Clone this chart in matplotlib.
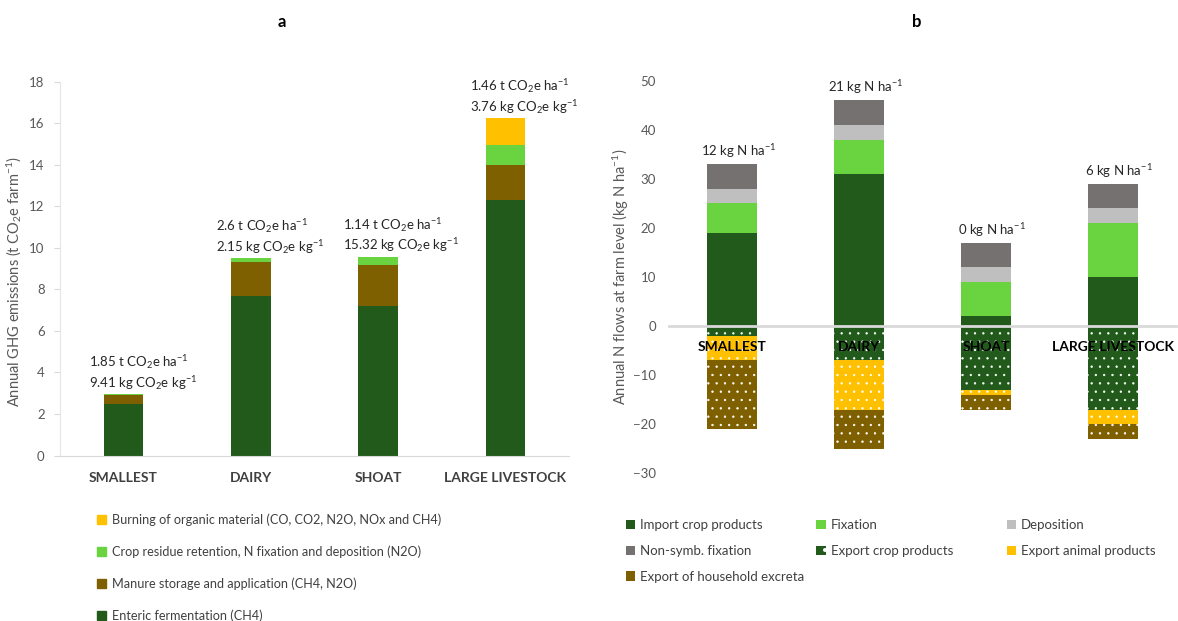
import matplotlib
matplotlib.use('Agg')
import numpy as np
from matplotlib import pyplot as plt
from matplotlib.patches import Rectangle

plt.rcParams['font.family'] = ['Lato', 'DejaVu Sans']
plt.rcParams['mathtext.default'] = 'regular'
plt.rcParams['hatch.linewidth'] = 0.45

# ---- panel a: GHG emissions per farm type ----
farm_types = ['SMALLEST', 'DAIRY', 'SHOAT', 'LARGE LIVESTOCK']
enteric = [2.46, 7.68, 7.19, 12.31]
manure = [0.44, 1.65, 1.98, 1.69]
crop_residue = [0.06, 0.19, 0.41, 0.96]
burning = [0.0, 0.0, 0.0, 1.28]
per_ha = ['1.85', '2.6', '1.14', '1.46']
per_kg = ['9.41', '2.15', '15.32', '3.76']

# ---- panel b: farm level N flows ----
import_crop = [19, 31, 2, 10]
fixation = [6, 7, 7, 11]
deposition = [3, 3, 3, 3]
nonsymb = [5, 5, 5, 5]
export_crop = [-2, -7, -13, -17]
export_animal = [-5, -10, -1, -3]
export_excreta = [-14, -8, -3, -3]

DKGREEN = '#215a1b'
LTGREEN = '#6ad440'
BROWN = '#7f6000'
YELLOW = '#ffc000'
LTGRAY = '#bfbfbf'
DKGRAY = '#767171'
TXT = '#595959'

fig = plt.figure(figsize=(11.78, 6.21), dpi=100)

# ===================== a =====================
axa = fig.add_axes([0.0509, 0.2665, 0.4321, 0.6019])
x = np.arange(len(farm_types))
w = 0.31
bottom = np.zeros(len(x))
for vals, col in [(enteric, DKGREEN), (manure, BROWN),
                  (crop_residue, LTGREEN), (burning, YELLOW)]:
    axa.bar(x, vals, w, bottom=bottom, color=col, linewidth=0)
    bottom += np.array(vals)

for i in x:
    txt = (f'{per_ha[i]} t CO$_2$e ha$^{{-1}}$\n'
           f'{per_kg[i]} kg CO$_2$e kg$^{{-1}}$')
    axa.annotate(txt, (i - w / 2 - 0.12, bottom[i]), xytext=(0, 1.5),
                 textcoords='offset points', ha='left', va='bottom',
                 fontsize=9.5, color='#262626', linespacing=1.2)

axa.set_xlim(-0.5, 3.5)
axa.set_ylim(0, 18)
axa.set_yticks(range(0, 19, 2))
axa.set_xticks(x)
axa.set_xticklabels(farm_types, fontweight='bold', fontsize=10, color='#404040')
axa.tick_params(axis='x', length=0, pad=12)
axa.tick_params(axis='y', length=4, color='#d9d9d9', labelsize=9.5,
                labelcolor=TXT, pad=7)
for s in ['top', 'right']:
    axa.spines[s].set_visible(False)
axa.spines['left'].set_color('#e6e6e6')
axa.spines['bottom'].set_color('#d9d9d9')
axa.set_ylabel('Annual GHG emissions (t CO$_2$e farm$^{-1}$)',
               fontsize=10.5, color=TXT)
axa.yaxis.set_label_coords(-0.07, 0.464)

leg_a = [('Burning of organic material (CO, CO2, N2O, NOx and CH4)', YELLOW),
         ('Crop residue retention, N fixation and deposition (N2O)', LTGREEN),
         ('Manure storage and application (CH4, N2O)', BROWN),
         ('Enteric fermentation (CH4)', DKGREEN)]
fig.legend([Rectangle((0, 0), 1, 1, color=c) for _, c in leg_a],
           [t for t, _ in leg_a], loc='upper left',
           bbox_to_anchor=(0.077, 0.184), frameon=False, fontsize=9.1,
           handlelength=0.7, handleheight=0.7, handletextpad=0.45,
           labelspacing=1.55, labelcolor='#404040', borderpad=0)

fig.text(0.239, 0.965, 'a', fontsize=12, fontweight='bold', ha='center', va='center')

# ===================== b =====================
axb = fig.add_axes([0.5675, 0.2378, 0.4312, 0.6322])
# zero line doubles as the category axis
axb.spines['bottom'].set_position(('data', 0))
wb = 0.4
pos = np.zeros(len(x))
for vals, col in [(import_crop, DKGREEN), (fixation, LTGREEN),
                  (deposition, LTGRAY), (nonsymb, DKGRAY)]:
    axb.bar(x, vals, wb, bottom=pos, color=col, linewidth=0)
    pos += np.array(vals)
neg = np.zeros(len(x))
for vals, col in [(export_crop, DKGREEN), (export_animal, YELLOW),
                  (export_excreta, BROWN)]:
    axb.bar(x, vals, wb, bottom=neg, color=col, edgecolor='white',
            linewidth=0, hatch='..')
    neg += np.array(vals)

balance = pos + neg
for i in x:
    axb.annotate(f'{balance[i]:.0f} kg N ha$^{{-1}}$', (i + 0.05, pos[i]),
                 xytext=(0, 3), textcoords='offset points', ha='center',
                 va='bottom', fontsize=9.5, color='#262626')

axb.set_xlim(-0.5, 3.5)
axb.set_ylim(-30, 50)
axb.set_yticks(range(-30, 51, 10))
axb.set_xticks(x)
axb.set_xticklabels(farm_types, fontweight='bold', fontsize=10, color='black')
axb.spines['bottom'].set_color('#d9d9d9')
axb.spines['bottom'].set_linewidth(2)
for s in ['top', 'right', 'left']:
    axb.spines[s].set_visible(False)
axb.tick_params(axis='x', length=0, pad=11)
axb.tick_params(axis='y', length=0, labelsize=9.5, labelcolor=TXT, pad=9)
axb.set_ylabel('Annual N flows at farm level (kg N ha$^{-1}$)',
               fontsize=10.5, color=TXT)
axb.yaxis.set_label_coords(-0.074, 0.5)

def sq(c, dotted=False):
    return Rectangle((0, 0), 1, 1, facecolor=c, edgecolor='white',
                     linewidth=0, hatch='.' if dotted else None)

leg_b = [
    [('Import crop products', sq(DKGREEN)), ('Non-symb. fixation', sq(DKGRAY)),
     ('Export of household excreta', sq(BROWN, True))],
    [('Fixation', sq(LTGREEN)), ('Export crop products', sq(DKGREEN, True))],
    [('Deposition', sq(LTGRAY)), ('Export animal products', sq(YELLOW))],
]
for col_items, xa in zip(leg_b, [0.5255, 0.6875, 0.849]):
    fig.legend([h for _, h in col_items], [t for t, _ in col_items],
               loc='upper left', bbox_to_anchor=(xa, 0.175),
               frameon=False, fontsize=9.5, handlelength=0.7,
               handleheight=0.7, handletextpad=0.4, labelspacing=1.05,
               labelcolor='#404040', borderpad=0)

fig.text(0.778, 0.965, 'b', fontsize=12, fontweight='bold', ha='center', va='center')

fig.savefig('out.png', dpi=100, facecolor='white')
